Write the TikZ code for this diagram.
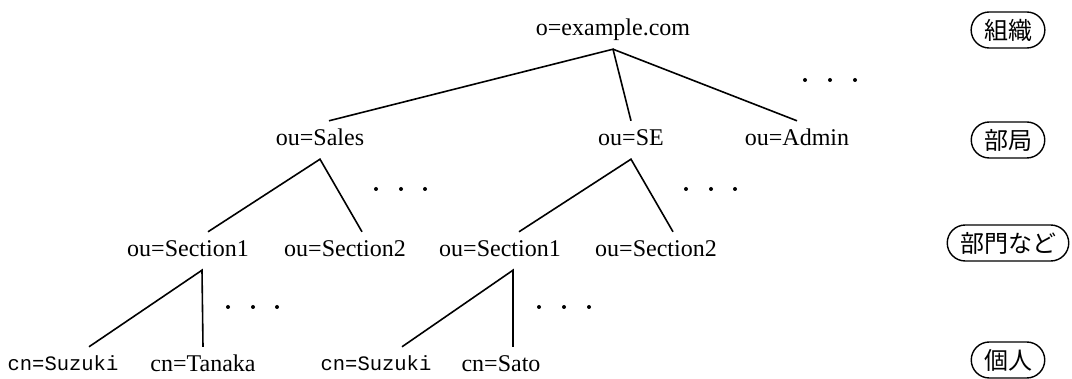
\documentclass[tikz,border=0pt]{standalone}
\usepackage{fontspec}
\setmainfont{Liberation Serif}
\setmonofont{Liberation Mono}
\newfontfamily\jpfont{Noto Sans CJK JP}
\usetikzlibrary{shapes.misc}
\tikzset{
  ent/.style={font=\fontsize{24}{26}\selectfont, inner sep=0pt, minimum height=38pt, text height=16pt, text depth=5pt},
  cnmono/.style={font=\ttfamily\fontsize{20.5}{24}\selectfont, inner sep=0pt, minimum height=36pt, text height=16pt, text depth=5pt},
  lvl/.style={rounded rectangle, draw, line width=1.4pt, font=\jpfont\fontsize{24}{26}\selectfont, minimum height=36pt, inner xsep=9pt, inner ysep=0pt},
  edge/.style={line width=1.6pt},
  dot/.style={fill=black}
}
\begin{document}
\begin{tikzpicture}[x=1pt,y=-1pt]
\useasboundingbox (0,0) rectangle (1072,379);
% level 0
\node[ent] (root) at (613,30) {o=example.com};
% level 1
\node[ent] (sales) at (320,140) {ou=Sales};
\node[ent] (se) at (631,140) {ou=SE};
\node[ent] (admin) at (797,140) {ou=Admin};
% level 2
\node[ent] (s1) at (188,251) {ou=Section1};
\node[ent] (s2) at (345,251) {ou=Section2};
\node[ent] (t1) at (500,251) {ou=Section1};
\node[ent] (t2) at (656,251) {ou=Section2};
% level 3
\node[cnmono] (c1) at (63,365) {cn=Suzuki};
\node[ent] (c2) at (203,366) {cn=Tanaka};
\node[cnmono] (c3) at (376,365) {cn=Suzuki};
\node[ent] (c4) at (501,366) {cn=Sato};
% connectors
\draw[edge] ([xshift=9pt]sales.north) -- (root.south) -- (se.north);
\draw[edge] (root.south) -- (admin.north);
\draw[edge] ([xshift=20pt]s1.north) -- (sales.south) -- ([xshift=17pt]s2.north);
\draw[edge] ([xshift=19pt]t1.north) -- (se.south) -- ([xshift=17pt]t2.north);
\draw[edge] ([xshift=26pt]c1.north) -- ([xshift=14pt]s1.south) -- (c2.north);
\draw[edge] ([xshift=26pt]c3.north) -- ([xshift=13pt]t1.south) -- ([xshift=12pt]c4.north);
% ellipsis dots
\foreach \x/\y in {805/80,830/80,855/80, 376/189,401/189,425/189, 686/189,711/189,735/189, 228/307,253/307,277/307, 539/307,564/307,589/307}
  \fill[dot] (\x,\y) circle (2pt);
% level labels
\node[lvl] (l0) at (1008,30) {組織};
\node[lvl] (l1) at (1008,140) {部局};
\node[lvl] (l2) at (1008,243) {部門など};
\node[lvl] (l3) at (1008,360) {個人};
\end{tikzpicture}
\end{document}
